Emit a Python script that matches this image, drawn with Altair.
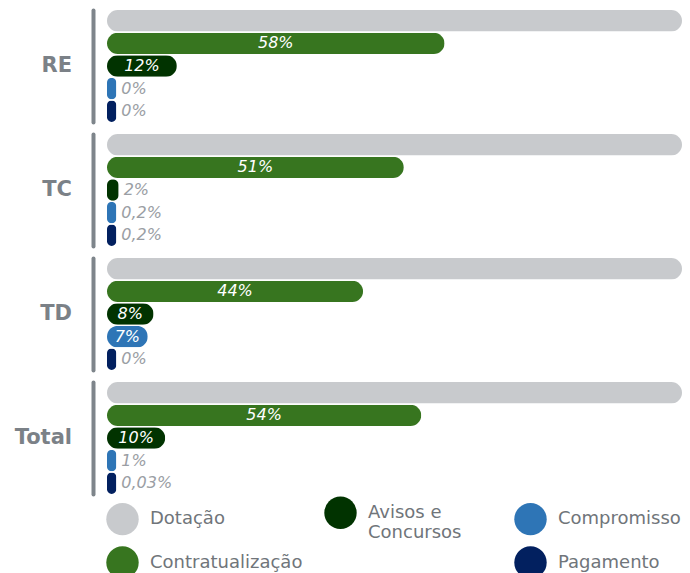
import altair as alt
import pandas as pd

groups = ["RE", "TC", "TD", "Total"]
series = ["Dotação", "Contratualização", "Avisos e Concursos", "Compromisso", "Pagamento"]
values = {
    "RE":    [100, 58, 12, 0, 0],
    "TC":    [100, 51, 2, 0.2, 0.2],
    "TD":    [100, 44, 8, 7, 0],
    "Total": [100, 54, 10, 1, 0.03],
}
colors = {
    "Dotação": "#c8cacd",
    "Contratualização": "#37751f",
    "Avisos e Concursos": "#013300",
    "Compromisso": "#2e75b6",
    "Pagamento": "#02205f",
}

rows = []
for g in groups:
    for s, v in zip(series, values[g]):
        rows.append({"group": g, "series": s, "value": v})
df = pd.DataFrame(rows)

# invisible spacer entry to reproduce the legend's column layout
BLANK = "MMMMMMMM"
legend_order = ["Dotação", "Contratualização", "Avisos e Concursos", BLANK, "Compromisso", "Pagamento"]
legend_range = [colors[k] if k in colors else "#ffffff" for k in legend_order]

FONT = "DejaVu Sans"

base = alt.Chart(df).transform_calculate(
    disp="max(datum.value, 1.6)",
    mid="max(datum.value, 1.6) / 2",
    label="replace(toString(datum.value), '.', ',') + '%'",
).properties(width=575, height=112)

xscale = alt.Scale(domain=[0, 98.8], clamp=True)

yenc = alt.Y(
    "series:N", sort=series, title=None,
    scale=alt.Scale(paddingInner=0.05, paddingOuter=0),
    axis=alt.Axis(labels=False, ticks=False, grid=False, domain=True,
                  domainColor="#7e858b", domainWidth=4, domainCap="round", offset=14),
)

bars = base.mark_bar(cornerRadius=11).encode(
    x=alt.X("disp:Q", scale=xscale, axis=None),
    y=yenc,
    color=alt.Color(
        "series:N",
        scale=alt.Scale(domain=legend_order, range=legend_range),
        legend=alt.Legend(
            title=None, orient="none", legendX=-1, legendY=486, columns=3,
            symbolType="circle", symbolSize=1050, symbolStrokeWidth=0, symbolOpacity=1,
            labelFont=FONT, labelFontSize=18, labelLimit=400,
            labelColor=alt.ExprRef(expr="datum.label == '" + BLANK + "' ? '#ffffff' : '#70757a'"),
            labelOffset=11, columnPadding=21, rowPadding=4, gridAlign="each",
            labelExpr="datum.label == 'Avisos e Concursos' ? ['Avisos e', 'Concursos'] : datum.label",
        ),
    ),
)

inside = base.transform_filter(
    "datum.series != 'Dotação' && datum.value >= 5"
).mark_text(font=FONT, fontSize=16, fontStyle="italic", color="white", baseline="middle", align="center").encode(
    x=alt.X("mid:Q", scale=xscale, axis=None),
    y=alt.Y("series:N", sort=series),
    text="label:N",
)

outside = base.transform_filter(
    "datum.series != 'Dotação' && datum.value < 5"
).mark_text(font=FONT, fontSize=16, fontStyle="italic", color="#9a9ea4", baseline="middle", align="left", dx=5).encode(
    x=alt.X("disp:Q", scale=xscale, axis=None),
    y=alt.Y("series:N", sort=series),
    text="label:N",
)

chart = alt.layer(bars, inside, outside).facet(
    row=alt.Row(
        "group:N", sort=groups, title=None,
        header=alt.Header(labelOrient="left", labelAngle=0, labelAlign="left",
                          labelFont=FONT, labelFontSize=21, labelFontWeight="bold",
                          labelColor="#7b8187", labelPadding=21),
    ),
    spacing=12,
).properties(
    padding={"left": 6, "top": 2, "right": 0, "bottom": 0}
).configure(font=FONT).configure_view(stroke=None)

chart.save("out.html", embed_options={"renderer": "svg", "actions": False})
